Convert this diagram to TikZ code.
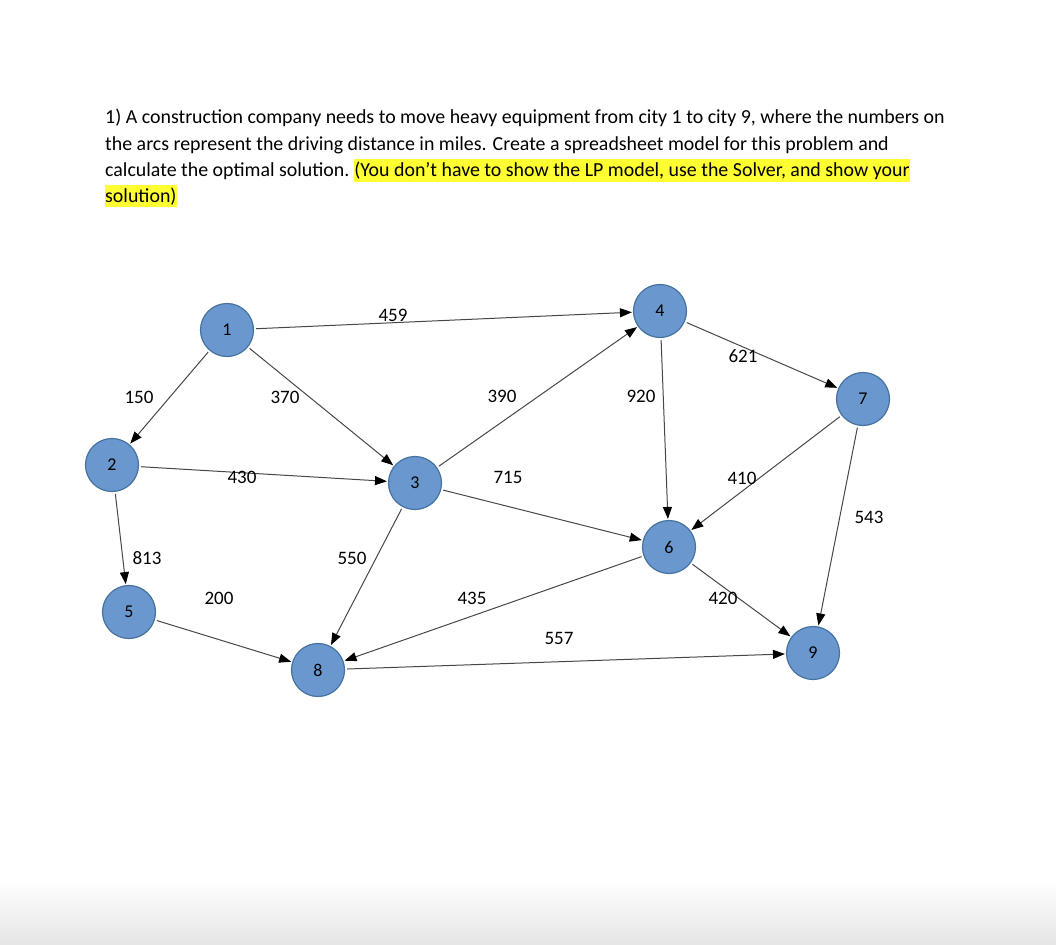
\documentclass[tikz,border=0pt]{standalone}
\usepackage{fontspec}
\setmainfont{Carlito}
\usetikzlibrary{arrows.meta}
\definecolor{cityfill}{RGB}{106,152,206}
\definecolor{cityline}{RGB}{70,114,160}
\definecolor{marker}{RGB}{255,255,50}
\tikzset{
  city/.style={circle, draw=cityline, fill=cityfill, line width=1.2pt,
    minimum size=53pt, inner sep=0pt, font=\fontsize{18}{18}\selectfont},
  arc/.style={-{Triangle[length=12pt,width=9pt,color=black]}, draw=black!72, line width=1pt,
    shorten <=2pt, shorten >=1pt},
  dist/.style={font=\fontsize{19}{19}\selectfont, inner sep=0pt},
  line/.style={anchor=base west, inner xsep=0pt, inner ysep=2.5pt,
    font=\fontsize{19.9}{24}\selectfont},
}
\begin{document}
\begin{tikzpicture}[x=1pt,y=-1pt]
        % page
            \useasboundingbox (0,0) rectangle (1056,944);
            \shade[top color=white, bottom color=black!10] (0,880) rectangle (1056,944);
        % question
            \node[line] (q1) at (105,124) {1) A construction company needs to move heavy equipment from city 1 to city 9, where the numbers on};
            \node[line] (q2) at (105,150) {the arcs represent the driving distance in miles. Create a spreadsheet model for this problem and};
            \node[line] (q3) at (105,176) {calculate the optimal solution.};
            \node[line, fill=marker] (q3h) at ([xshift=4.5pt]q3.base east) {(You don’t have to show the LP model, use the Solver, and show your};
            \node[line, fill=marker] (q4) at (105,202) {solution)};
        % cities
            \foreach \n/\x/\y in {1/227/330,2/112/465,3/415/483,4/660/311,5/129/612,
                                  6/669/547,7/863/399,8/318/670,9/813/653}{
                \node[city] (c\n) at (\x,\y) {\n};
            }
        % roads
            \foreach \a/\b in {1/2,1/3,1/4,2/3,2/5,3/4,3/6,3/8,4/6,4/7,7/6,7/9,6/8,6/9,5/8,8/9}{
                \draw[arc] (c\a) -- (c\b);
            }
        % distances
            \foreach \x/\y/\d in {139/397/150,285/397/370,393/315/459,242/477/430,
                                  502/396/390,508/477/715,743/356/621,641/396/920,
                                  742/478/410,869/517/543,147/558/813,352/558/550,
                                  219/598/200,472/598/435,723/598/420,559/638/557}{
                \node[dist] (d\d) at (\x,\y) {\d};
            }
        \end{tikzpicture}
\end{document}
